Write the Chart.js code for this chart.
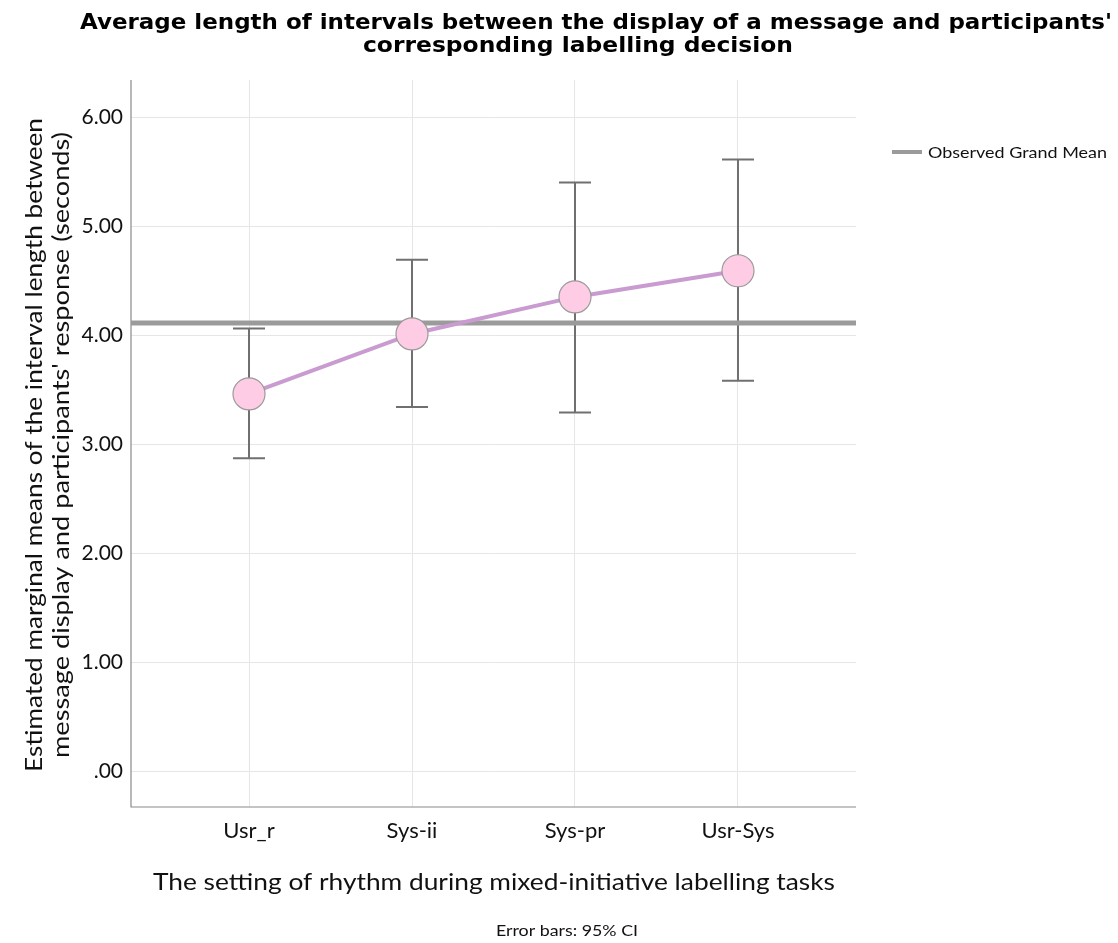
<!DOCTYPE html>
<html>
<head>
<meta charset="utf-8">
<script src="https://cdn.jsdelivr.net/npm/chart.js@4.4.1/dist/chart.umd.min.js"></script>
<style>
  html, body { margin: 0; padding: 0; background: #fff; }
  #wrap { width: 1118px; height: 943px; }
</style>
</head>
<body>
<div id="wrap"><canvas id="chart" width="1118" height="943"></canvas></div>
<script>
// data
const categories = ["Usr_r", "Sys-ii", "Sys-pr", "Usr-Sys"];
const means = [3.46, 4.01, 4.35, 4.59];
const ciLower = [2.87, 3.34, 3.29, 3.58];
const ciUpper = [4.06, 4.69, 5.40, 5.61];
const grandMean = 4.11;
const yTicks = [0, 1, 2, 3, 4, 5, 6];
const yTickLabels = [".00", "1.00", "2.00", "3.00", "4.00", "5.00", "6.00"];

const titleLines = [
    "Average length of intervals between the display of a message and participants'",
    "corresponding labelling decision"
];
const yTitleLines = [
    "Estimated marginal means of the interval length between",
    "message display and participants' response (seconds)"
];
const xTitle = "The setting of rhythm during mixed-initiative labelling tasks";
const footnote = "Error bars: 95% CI";
const legendLabel = "Observed Grand Mean";

const X_MIN = -0.724, X_MAX = 3.724;
const FONT = "Lato, 'Open Sans', sans-serif";

const meanPoints = means.map((m, i) => ({ x: i, y: m }));
const grandPoints = [{ x: X_MIN, y: grandMean }, { x: X_MAX, y: grandMean }];

// draw text stretched to a given width (left edge x0)
function fillFit(ctx, text, x0, y, width) {
    const w = ctx.measureText(text).width;
    ctx.save();
    ctx.translate(x0, y);
    ctx.scale(width / w, 1);
    ctx.textAlign = "left";
    ctx.fillText(text, 0, 0);
    ctx.restore();
}

// error bars + texts drawn with the chart's own scales
const decorations = {
    id: "decorations",
    beforeDatasetsDraw(chart) {
        const { ctx, scales: { x, y } } = chart;
        ctx.save();
        ctx.strokeStyle = "#707070";
        ctx.lineWidth = 2;
        categories.forEach((c, i) => {
            const px = x.getPixelForValue(i);
            const lo = y.getPixelForValue(ciLower[i]);
            const hi = y.getPixelForValue(ciUpper[i]);
            ctx.beginPath();
            ctx.moveTo(px, lo); ctx.lineTo(px, hi);
            ctx.moveTo(px - 16, lo); ctx.lineTo(px + 16, lo);
            ctx.moveTo(px - 16, hi); ctx.lineTo(px + 16, hi);
            ctx.stroke();
        });
        ctx.restore();
    },
    afterDraw(chart) {
        const { ctx } = chart;
        ctx.save();
        ctx.fillStyle = "#000";
        ctx.textBaseline = "middle";

        // title
        ctx.font = "bold 21px 'DejaVu Sans', sans-serif";
        fillFit(ctx, titleLines[0], 80, 24, 1032);
        fillFit(ctx, titleLines[1], 363, 47, 430);

        // y title
        ctx.fillStyle = "#111";
        ctx.font = "23px " + FONT;
        ctx.save();
        ctx.translate(35, 445);
        ctx.rotate(-Math.PI / 2);
        fillFit(ctx, yTitleLines[0], -327, 0, 654);
        fillFit(ctx, yTitleLines[1], -313, 27, 626);
        ctx.restore();

        // x title
        fillFit(ctx, xTitle, 153, 883, 682);

        // footnote
        ctx.font = "15px " + FONT;
        fillFit(ctx, footnote, 496, 931, 142);

        // legend
        ctx.strokeStyle = "#9b9b9b";
        ctx.lineWidth = 4;
        ctx.beginPath();
        ctx.moveTo(892, 152); ctx.lineTo(922, 152);
        ctx.stroke();
        fillFit(ctx, legendLabel, 928, 153, 179);
        ctx.restore();
    }
};

new Chart(document.getElementById("chart"), {
    type: "line",
    data: {
        datasets: [
            {
                label: "Mean",
                data: meanPoints,
                borderColor: "#c99bd0",
                borderWidth: 4,
                pointRadius: 16,
                pointBackgroundColor: "#ffcce6",
                pointBorderColor: "#9a9a9a",
                pointBorderWidth: 1.2,
                tension: 0
            },
            {
                label: legendLabel,
                data: grandPoints,
                borderColor: "#9b9b9b",
                borderWidth: 5,
                pointRadius: 0,
                tension: 0
            }
        ]
    },
    options: {
        responsive: false,
        animation: false,
        layout: { padding: { top: 80, right: 262, left: 0, bottom: 0 } },
        plugins: {
            legend: { display: false },
            title: { display: false },
            tooltip: { enabled: false }
        },
        scales: {
            x: {
                type: "linear",
                min: X_MIN,
                max: X_MAX,
                afterBuildTicks(scale) {
                    scale.ticks = categories.map((c, i) => ({ value: i }));
                },
                afterFit(scale) { scale.height = 136; },
                ticks: {
                    autoSkip: false,
                    maxRotation: 0,
                    padding: 11,
                    color: "#111",
                    font: { family: FONT, size: 22 },
                    callback: (v) => categories[v]
                },
                grid: { color: "#e6e6e6", drawTicks: false, lineWidth: 1 },
                border: { display: false }
            },
            y: {
                type: "linear",
                min: -0.33,
                max: 6.34,
                afterBuildTicks(scale) {
                    scale.ticks = yTicks.map(v => ({ value: v }));
                },
                afterFit(scale) { scale.width = 131; },
                ticks: {
                    padding: 8,
                    color: "#111",
                    font: { family: FONT, size: 21 },
                    callback: (v) => yTickLabels[yTicks.indexOf(v)]
                },
                grid: { color: "#e6e6e6", drawTicks: false, lineWidth: 1 },
                border: { display: false }
            }
        }
    },
    plugins: [decorations, {
        id: "axisLines",
        beforeDatasetsDraw(chart) {
            const { ctx, chartArea } = chart;
            ctx.save();
            ctx.strokeStyle = "#8a8a8a";
            ctx.lineWidth = 1.2;
            ctx.beginPath();
            ctx.moveTo(chartArea.left, chartArea.top);
            ctx.lineTo(chartArea.left, chartArea.bottom);
            ctx.lineTo(chartArea.right, chartArea.bottom);
            ctx.stroke();
            ctx.restore();
        }
    }]
});
</script>
</body>
</html>
